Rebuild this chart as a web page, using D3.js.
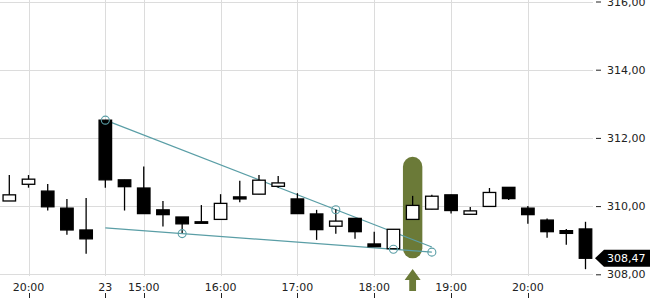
<!DOCTYPE html>
<html>
<head>
<meta charset="utf-8">
<script src="https://cdn.jsdelivr.net/npm/d3@7"></script>
<style>
  body { margin: 0; background: #fff; }
  svg { display: block; font-family: "DejaVu Sans", sans-serif; }
</style>
</head>
<body>
<svg id="chart" width="650" height="300"></svg>
<script>
// 15-minute candles
const times = ["19:45", "20:00", "20:15", "20:30", "20:45", "14:30", "14:45", "15:00", "15:15", "15:30",
  "15:45", "16:00", "16:15", "16:30", "16:45", "17:00", "17:15", "17:30", "17:45", "18:00",
  "18:15", "18:30", "18:45", "19:00", "19:15", "19:30", "19:45", "20:00", "20:15", "20:30", "20:45"];
const opens  = [310.15, 310.64, 310.44, 309.94, 309.30, 312.52, 310.77, 310.53, 309.89, 309.68,
  309.54, 309.61, 310.27, 310.35, 310.58, 310.21, 309.77, 309.41, 309.64, 308.89,
  308.75, 309.61, 309.91, 310.33, 309.76, 309.99, 310.55, 309.94, 309.59, 309.28, 309.33];
const highs  = [310.91, 310.91, 310.65, 310.21, 310.24, 312.52, 310.77, 311.16, 310.15, 309.68,
  310.03, 310.35, 310.74, 310.91, 310.88, 310.38, 309.89, 309.91, 309.64, 309.25,
  309.32, 310.30, 310.33, 310.33, 309.97, 310.53, 310.55, 310.00, 309.64, 309.33, 309.54];
const lows   = [310.15, 310.54, 309.87, 309.16, 308.60, 310.54, 309.87, 309.78, 309.40, 309.21,
  309.52, 309.61, 310.11, 310.35, 310.54, 309.78, 309.01, 309.19, 309.04, 308.81,
  308.75, 309.61, 309.91, 309.78, 309.76, 309.99, 310.18, 309.48, 309.07, 308.87, 308.15];
const closes = [310.33, 310.79, 309.98, 309.30, 309.04, 310.77, 310.57, 309.78, 309.75, 309.48,
  309.52, 310.08, 310.21, 310.76, 310.68, 309.78, 309.31, 309.56, 309.25, 308.81,
  309.32, 310.02, 310.29, 309.87, 309.86, 310.40, 310.22, 309.75, 309.25, 309.20, 308.47];

const yTicks = [308, 310, 312, 314, 316];
const xTickIdx = [1, 5, 7, 11, 15, 19, 23, 27];
const xTickLabels = ["20:00", "23", "15:00", "16:00", "17:00", "18:00", "19:00", "20:00"];

// trend lines: [start index, start value, end index, end value]
const trendUpper = [5, 312.52, 22, 308.80];
const trendLower = [5, 309.36, 22, 308.65];
const upperMarks = [5, 17];
const lowerMarks = [9, 20, 22];

const signalIdx = 21;
const lastPrice = 308.47;

const svg = d3.select("#chart");
const plotRight = 593;

const x = d3.scalePoint().domain(d3.range(times.length)).range([9.3, 585.5]);
const y = d3.scaleLinear().domain([308, 316]).range([274.3, 1.5]);

const fmt = v => d3.format(".2f")(v).replace(".", ",");

// grid
svg.append("g").selectAll("line").data(yTicks).join("line")
  .attr("x1", 0).attr("x2", plotRight)
  .attr("y1", d => Math.round(y(d)) + 0.5).attr("y2", d => Math.round(y(d)) + 0.5)
  .attr("stroke", "#dcdcdc");
svg.append("g").selectAll("line").data(xTickIdx).join("line")
  .attr("x1", d => Math.round(x(d)) + 0.5).attr("x2", d => Math.round(x(d)) + 0.5)
  .attr("y1", 0).attr("y2", 276)
  .attr("stroke", "#dcdcdc");

// y axis
const yAxis = svg.append("g").attr("transform", `translate(${plotRight + 3},0)`)
  .call(d3.axisRight(y).tickValues(yTicks).tickFormat(fmt).tickSize(5).tickPadding(6));
yAxis.select(".domain").remove();
yAxis.selectAll("text").attr("font-size", 11).attr("fill", "#222").attr("font-family", "DejaVu Sans");
yAxis.selectAll("line").attr("stroke", "#222");

// x axis labels + ticks
const xa = svg.append("g");
xa.selectAll("text").data(xTickIdx).join("text")
  .attr("x", d => x(d)).attr("y", 291)
  .attr("text-anchor", "middle").attr("font-size", 11).attr("fill", "#222")
  .text((d, i) => xTickLabels[i]);
xa.selectAll("line").data(xTickIdx).join("line")
  .attr("x1", d => Math.round(x(d)) + 0.5).attr("x2", d => Math.round(x(d)) + 0.5)
  .attr("y1", 293).attr("y2", 298).attr("stroke", "#222");

// signal highlight
const green = "#6b7a38";
const sx = x(signalIdx);
svg.append("rect")
  .attr("x", sx - 9.7).attr("width", 19.4)
  .attr("y", y(highs[signalIdx]) - 39).attr("height", 101.5)
  .attr("rx", 10).attr("fill", green);
svg.append("path")
  .attr("d", `M${sx},269 L${sx + 8},280 L${sx + 3.4},280 L${sx + 3.4},291 L${sx - 3.4},291 L${sx - 3.4},280 L${sx - 8},280 Z`)
  .attr("fill", green);

// trend lines
const teal = "#5a9ea6";
[trendUpper, trendLower].forEach(t => {
  svg.append("line")
    .attr("x1", x(t[0])).attr("y1", y(t[1]))
    .attr("x2", x(t[2])).attr("y2", y(t[3]))
    .attr("stroke", teal).attr("stroke-width", 1.2);
});
const lineVal = (t, i) => t[1] + (t[3] - t[1]) * (i - t[0]) / (t[2] - t[0]);

// candles
const bw = 12.5;
const candles = svg.append("g").selectAll("g").data(d3.range(times.length)).join("g");
candles.append("line")
  .attr("x1", i => x(i)).attr("x2", i => x(i))
  .attr("y1", i => y(highs[i])).attr("y2", i => y(lows[i]))
  .attr("stroke", "#000").attr("stroke-width", 1.3);
candles.append("rect")
  .attr("x", i => x(i) - bw / 2).attr("width", bw)
  .attr("y", i => y(Math.max(opens[i], closes[i])))
  .attr("height", i => Math.max(1.5, Math.abs(y(opens[i]) - y(closes[i]))))
  .attr("fill", i => closes[i] >= opens[i] ? "#fff" : "#000")
  .attr("stroke", "#000").attr("stroke-width", 1.3);

// trend markers
upperMarks.forEach(i => svg.append("circle").attr("cx", x(i)).attr("cy", y(lineVal(trendUpper, i)))
  .attr("r", 4).attr("fill", "none").attr("stroke", teal).attr("stroke-width", 1.1));
lowerMarks.forEach(i => svg.append("circle").attr("cx", x(i)).attr("cy", y(lineVal(trendLower, i)))
  .attr("r", 4).attr("fill", "none").attr("stroke", teal).attr("stroke-width", 1.1));

// last price tag
const py = y(lastPrice);
svg.append("path")
  .attr("d", `M595,${py} L604,${py - 8.5} L650,${py - 8.5} L650,${py + 8.5} L604,${py + 8.5} Z`)
  .attr("fill", "#000");
svg.append("text").attr("x", 607).attr("y", py + 4).attr("font-size", 11)
  .attr("fill", "#fff").text(fmt(lastPrice));
</script>
</body>
</html>
